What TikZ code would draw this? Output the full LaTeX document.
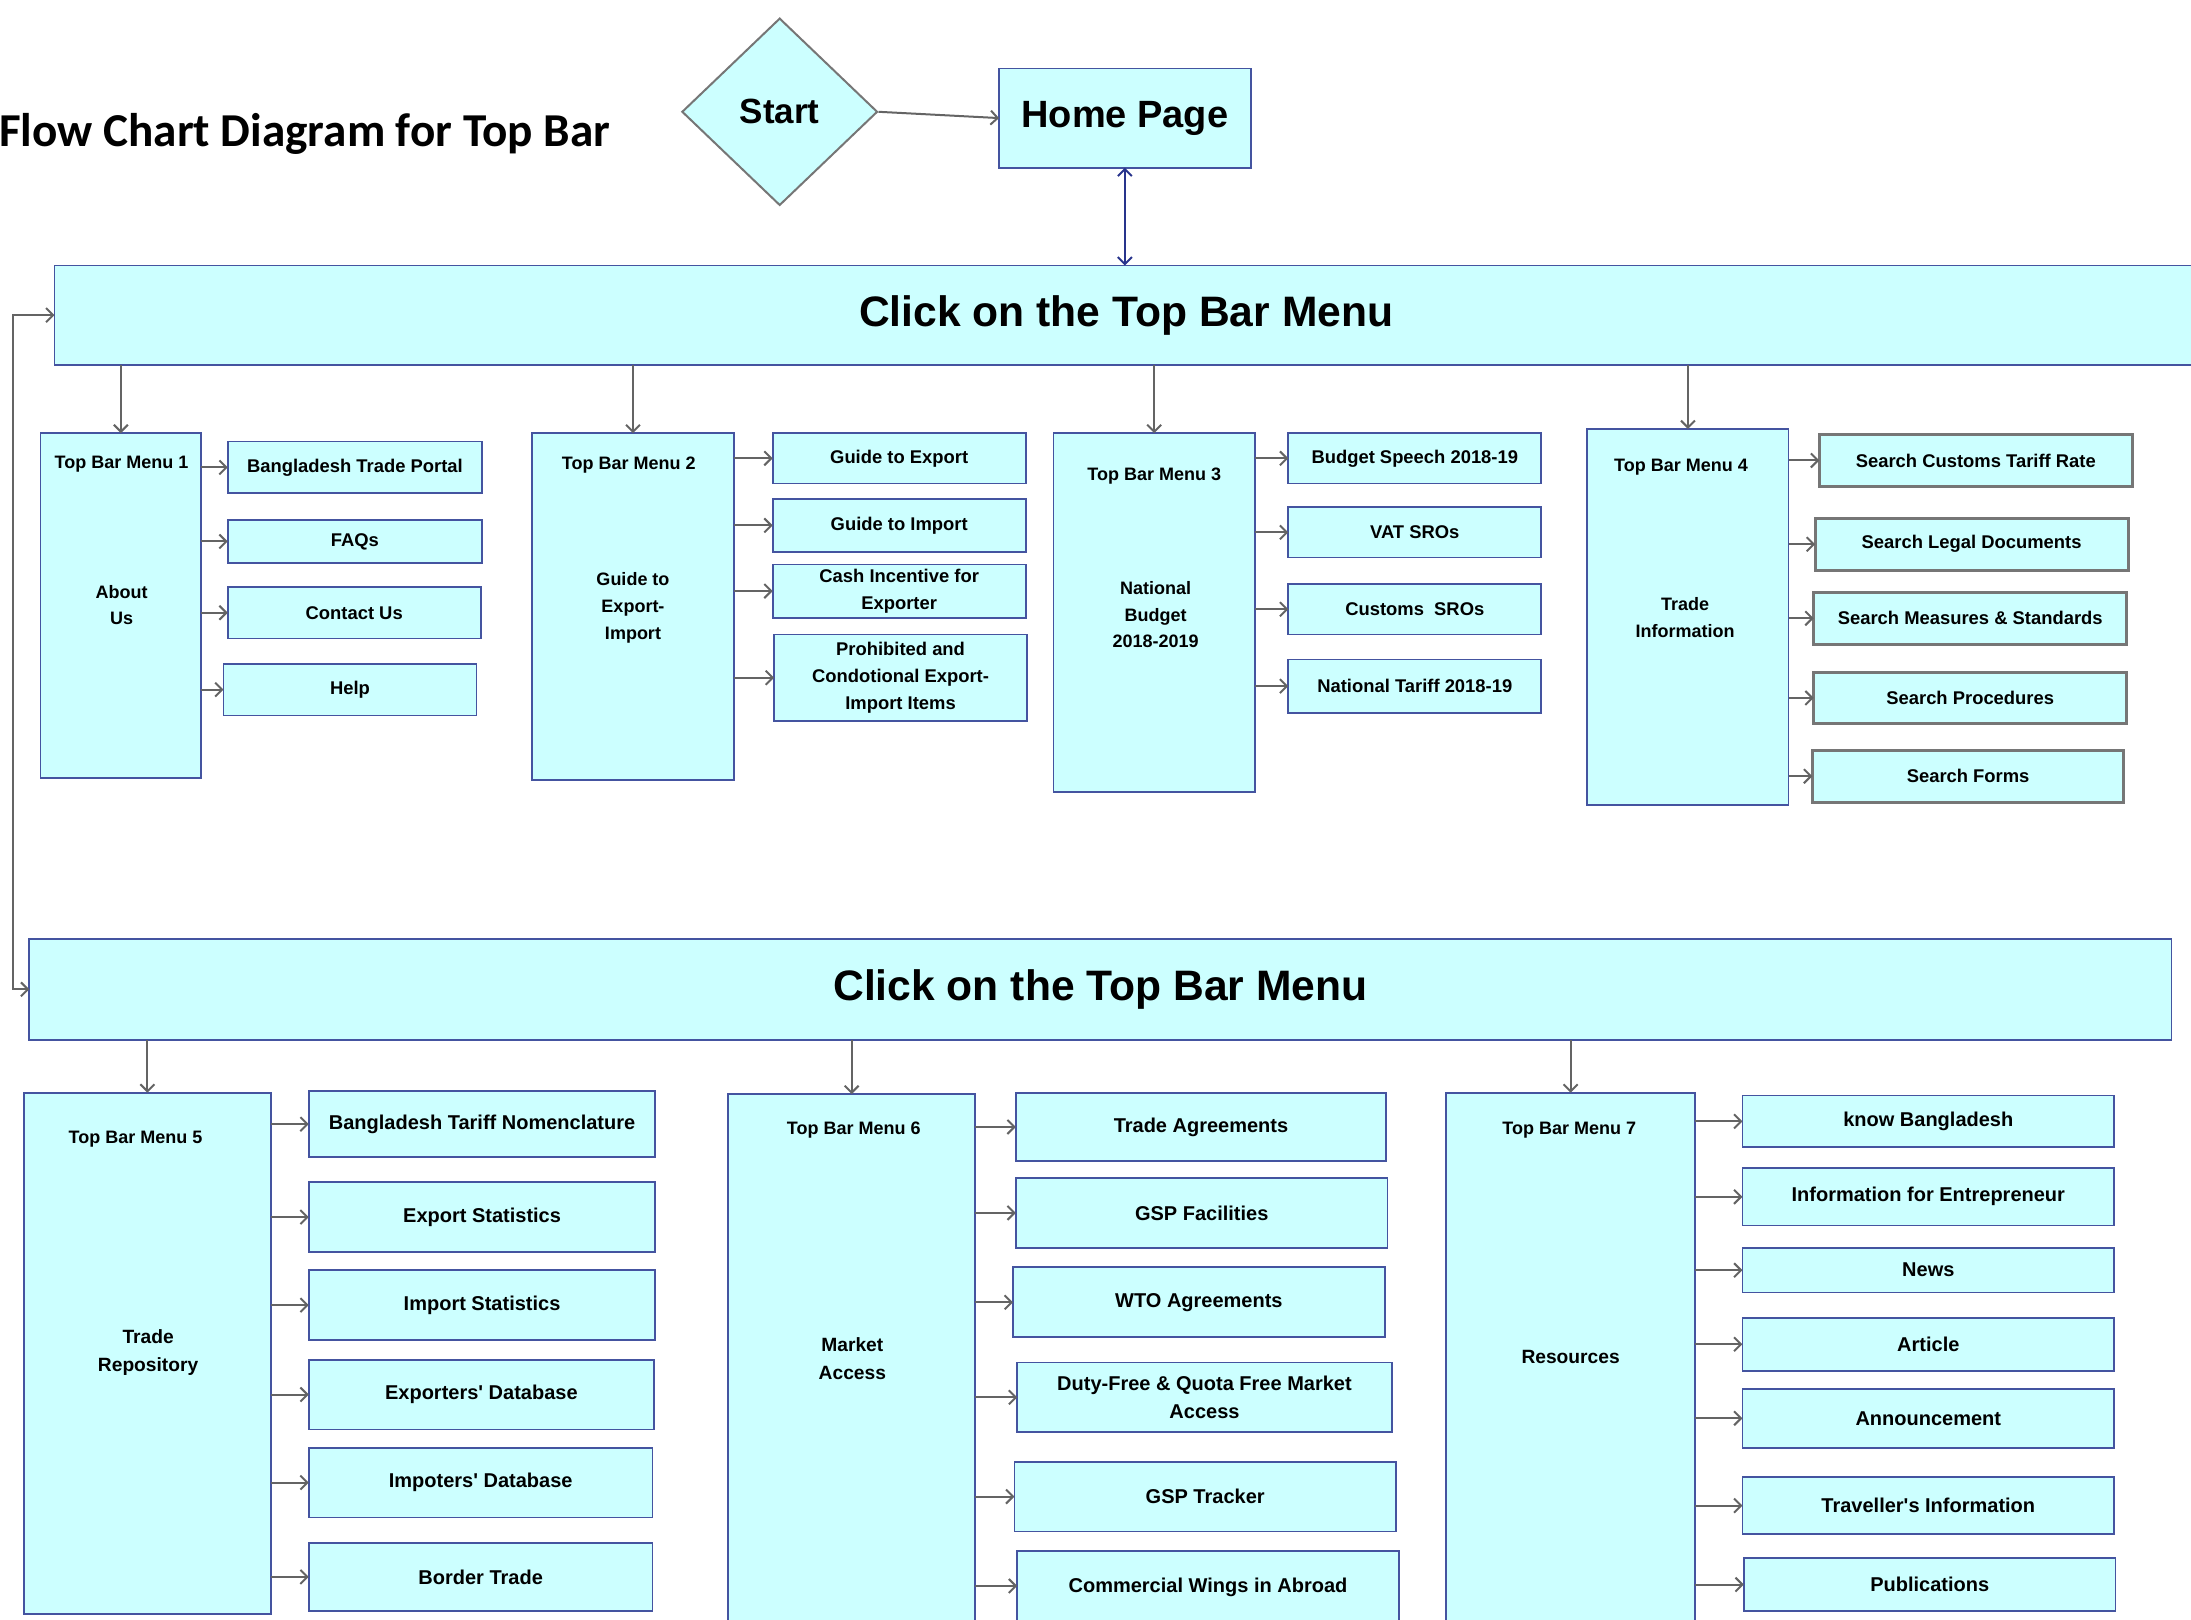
\documentclass[tikz,border=0pt]{standalone}
\usepackage{fontspec}
\setmainfont{Liberation Sans}[Ligatures=TeXOff]
\newfontfamily\titlefont{Carlito}
\usetikzlibrary{arrows.meta,shapes.geometric}
\definecolor{fillc}{RGB}{204,255,255}
\definecolor{bordc}{RGB}{68,84,160}
\definecolor{grayc}{RGB}{118,118,118}
\definecolor{arrc}{RGB}{100,100,100}
\definecolor{darkblue}{RGB}{40,52,140}
\newcommand{\mybox}[7]{\node[#1, minimum width={(#5-#3)*0.69865pt}, minimum height={(#6-#4)*0.69865pt}] (#2) at ({(#3+#5)/2},{(#4+#6)/2}) {#7};}
\tikzset{
  base/.style={draw=bordc, fill=fillc, line width=0.9pt, inner sep=0pt, outer sep=0pt, align=center, font=\bfseries\fontsize{9.2}{13.3}\selectfont},
  lowbox/.style={base, font=\bfseries\fontsize{10}{14}\selectfont},
  graybox/.style={base, draw=grayc, line width=1.5pt},
  menubox/.style={base},
  lbl/.style={inner sep=0pt, align=center, font=\bfseries\fontsize{9}{13.3}\selectfont},
  lowlbl/.style={inner sep=0pt, align=center, font=\bfseries\fontsize{9.6}{14}\selectfont},
  bigbox/.style={base, font=\bfseries\fontsize{21.3}{24}\selectfont},
  arr/.style={draw=arrc, line width=1pt, -{Straight Barb[length=3.5pt,width=7pt]}},
}
\begin{document}
\begin{tikzpicture}[x=0.69865pt, y=-0.69865pt]
\useasboundingbox (0,0) rectangle (1568,1159);

% title
\node[anchor=base east, inner sep=0pt, font=\titlefont\bfseries\fontsize{23.6}{26}\selectfont] (title) at (437,105) {Flow Chart Diagram for Top Bar};

% start and home
\node[shape=diamond, draw=grayc, fill=fillc, line width=1pt, inner sep=0pt, minimum width={140*0.69865pt}, minimum height={134*0.69865pt}, font=\bfseries\fontsize{17.5}{20}\selectfont] (start) at (558,80) {Start};
\mybox{base, font=\bfseries\fontsize{19}{22}\selectfont}{home}{715}{49}{895}{120}{Home Page}

% bars
\mybox{bigbox}{bar1}{39}{190}{1573}{261}{Click on the Top Bar Menu}
\mybox{bigbox}{bar2}{21}{672}{1554}{744}{Click on the Top Bar Menu}

\draw[draw=darkblue, line width=1pt, {Straight Barb[length=3.5pt,width=7pt]}-{Straight Barb[length=3.5pt,width=7pt]}] (home.south) -- (bar1.north -| home.south);
\draw[arr] (start.east) -- (home.west);
\coordinate (fb) at (9,450);
\draw[arr, {Straight Barb[length=3.5pt,width=7pt]}-{Straight Barb[length=3.5pt,width=7pt]}] (bar1.west) -| (fb) |- (bar2.west);

% menus top
\mybox{menubox}{m1}{29}{310}{144}{557}{}
\mybox{menubox}{m2}{381}{310}{525}{558}{}
\mybox{menubox}{m3}{754}{310}{898}{567}{}
\mybox{menubox}{m4}{1136}{307}{1280}{576}{}
\node[lbl] (m1t) at (87,332) {Top Bar Menu 1};
\node[lbl] (m1s) at (87,433) {About\\Us};
\node[lbl] (m2t) at (450,333) {Top Bar Menu 2};
\node[lbl] (m2s) at (453,435) {Guide to\\Export-\\Import};
\node[lbl] (m3t) at (826,341) {Top Bar Menu 3};
\node[lbl] (m3s) at (827,440) {National\\Budget\\2018-2019};
\node[lbl] (m4t) at (1203,334) {Top Bar Menu 4};
\node[lbl] (m4s) at (1206,442) {Trade\\Information};

\foreach \m in {m1,m2,m3,m4} \draw[arr] (bar1.south -| \m) -- (\m.north);

% menu 1 items
\mybox{base}{a1}{163}{316}{345}{353}{Bangladesh Trade Portal}
\mybox{base}{a2}{163}{372}{345}{403}{FAQs}
\mybox{base}{a3}{163}{420}{344}{457}{Contact Us}
\mybox{base}{a4}{160}{475}{341}{512}{Help}
% menu 2 items
\mybox{base}{b1}{553}{310}{734}{346}{Guide to Export}
\mybox{base}{b2}{553}{357}{734}{395}{Guide to Import}
\mybox{base}{b3}{553}{404}{734}{442}{Cash Incentive for\\Exporter}
\mybox{base}{b4}{554}{454}{735}{516}{Prohibited and\\Condotional Export-\\Import Items}
% menu 3 items
\mybox{base}{c1}{922}{310}{1103}{346}{Budget Speech 2018-19}
\mybox{base}{c2}{922}{363}{1103}{399}{VAT SROs}
\mybox{base}{c3}{922}{418}{1103}{454}{Customs\ \ SROs}
\mybox{base}{c4}{922}{472}{1103}{510}{National Tariff 2018-19}
% menu 4 items
\mybox{graybox}{d1}{1302}{311}{1526}{348}{Search Customs Tariff Rate}
\mybox{graybox}{d2}{1299}{371}{1523}{408}{Search Legal Documents}
\mybox{graybox}{d3}{1298}{424}{1522}{461}{Search Measures \& Standards}
\mybox{graybox}{d4}{1298}{481}{1522}{518}{Search Procedures}
\mybox{graybox}{d5}{1297}{537}{1520}{574}{Search Forms}

\foreach \i in {a1,a2,a3,a4} \draw[arr] (m1.east |- \i) -- (\i.west);
\foreach \i in {b1,b2,b3,b4} \draw[arr] (m2.east |- \i) -- (\i.west);
\foreach \i in {c1,c2,c3,c4} \draw[arr] (m3.east |- \i) -- (\i.west);
\foreach \i in {d1,d2,d3,d4,d5} \draw[arr] (m4.east |- \i) -- (\i.west);

% menus bottom
\mybox{menubox}{m5}{17}{782}{194}{1155}{}
\mybox{menubox}{m6}{521}{783}{698}{1163}{}
\mybox{menubox}{m7}{1035}{782}{1213}{1163}{}
\node[lbl] (m5t) at (97,815) {Top Bar Menu 5};
\node[lowlbl] (m5s) at (106,968) {Trade\\Repository};
\node[lbl] (m6t) at (611,809) {Top Bar Menu 6};
\node[lowlbl] (m6s) at (610,972) {Market\\Access};
\node[lbl] (m7t) at (1123,809) {Top Bar Menu 7};
\node[lowlbl] (m7s) at (1124,971) {Resources};

\foreach \m in {m5,m6,m7} \draw[arr] (bar2.south -| \m) -- (\m.north);

% menu 5 items
\mybox{lowbox}{e1}{221}{781}{469}{828}{Bangladesh Tariff Nomenclature}
\mybox{lowbox}{e2}{221}{846}{469}{896}{Export Statistics}
\mybox{lowbox}{e3}{221}{909}{469}{959}{Import Statistics}
\mybox{lowbox}{e4}{221}{973}{468}{1023}{Exporters' Database}
\mybox{lowbox}{e5}{221}{1036}{467}{1086}{Impoters' Database}
\mybox{lowbox}{e6}{221}{1104}{467}{1153}{Border Trade}
% menu 6 items
\mybox{lowbox}{f1}{727}{782}{992}{831}{Trade Agreements}
\mybox{lowbox}{f2}{727}{843}{993}{893}{GSP Facilities}
\mybox{lowbox}{f3}{725}{907}{991}{957}{WTO Agreements}
\mybox{lowbox}{f4}{728}{975}{996}{1025}{Duty-Free \& Quota Free Market\\Access}
\mybox{lowbox}{f5}{726}{1046}{999}{1096}{GSP Tracker}
\mybox{lowbox}{f6}{728}{1110}{1001}{1162}{Commercial Wings in Abroad}
% menu 7 items
\mybox{lowbox}{g1}{1247}{784}{1513}{821}{know Bangladesh}
\mybox{lowbox}{g2}{1247}{836}{1513}{877}{Information for Entrepreneur}
\mybox{lowbox}{g3}{1247}{893}{1513}{925}{News}
\mybox{lowbox}{g4}{1247}{943}{1513}{981}{Article}
\mybox{lowbox}{g5}{1247}{994}{1513}{1036}{Announcement}
\mybox{lowbox}{g6}{1247}{1057}{1513}{1098}{Traveller's Information}
\mybox{lowbox}{g7}{1248}{1115}{1514}{1153}{Publications}

\foreach \i in {e1,e2,e3,e4,e5,e6} \draw[arr] (m5.east |- \i) -- (\i.west);
\foreach \i in {f1,f2,f3,f4,f5} \draw[arr] (m6.east |- \i) -- (\i.west);
\draw[arr] (m6.east |- 0,1135) -- (f6.west |- 0,1135);
\foreach \i in {g1,g2,g3,g4,g5,g6,g7} \draw[arr] (m7.east |- \i) -- (\i.west);
\end{tikzpicture}
\end{document}
